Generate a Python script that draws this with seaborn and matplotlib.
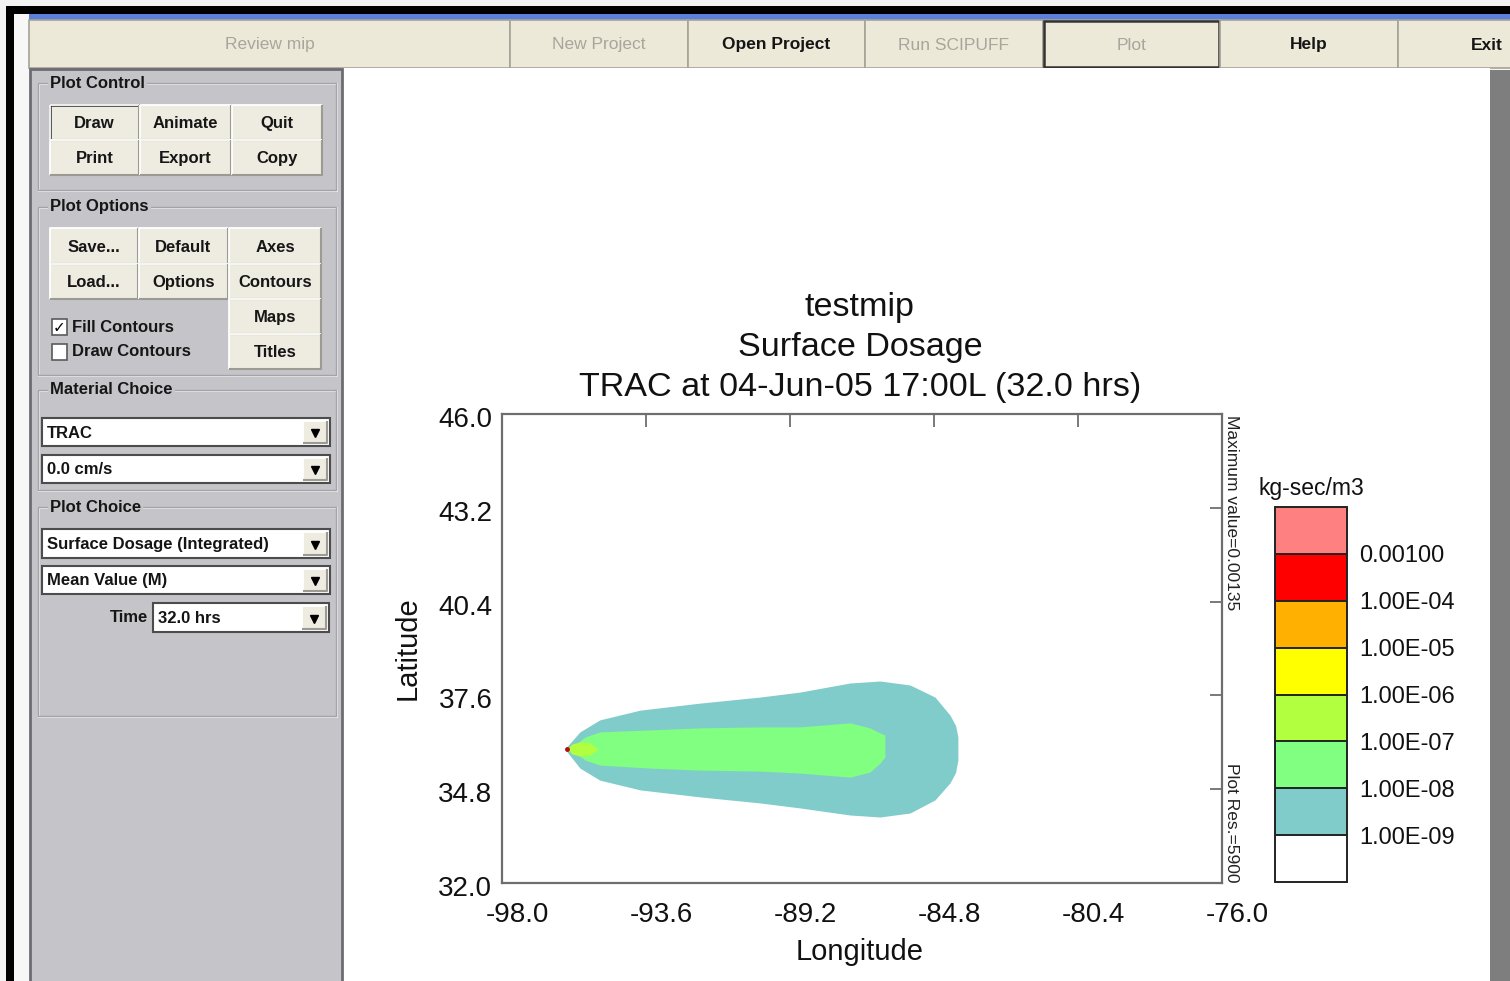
import numpy as np
import pandas as pd
import seaborn as sns
import matplotlib
matplotlib.use("Agg")
import matplotlib.pyplot as plt
import matplotlib.transforms as mtransforms
from matplotlib.patches import Rectangle
from matplotlib.colors import ListedColormap, BoundaryNorm
from matplotlib.cm import ScalarMappable
from matplotlib import font_manager

# -------------------------------------------------------
# Data (lon / lat bounds of each filled contour band)
teal_lon = [-96.08, -95.62, -95.01, -93.78, -91.95, -90.12, -88.89, -87.37, -86.45, -85.53, -84.77, -84.31, -84.14, -84.07]
teal_top = [36.00, 36.51, 36.87, 37.16, 37.37, 37.55, 37.70, 37.97, 38.03, 37.91, 37.55, 37.01, 36.70, 36.36]
teal_bot = [36.00, 35.43, 35.07, 34.78, 34.57, 34.39, 34.24, 34.03, 33.97, 34.09, 34.48, 34.99, 35.30, 35.67]

green_lon = [-95.92, -95.46, -95.01, -93.48, -91.95, -90.12, -88.89, -87.37, -86.76, -86.45, -86.30]
green_top = [36.00, 36.36, 36.51, 36.57, 36.63, 36.66, 36.66, 36.78, 36.63, 36.48, 36.42]
green_bot = [36.00, 35.67, 35.52, 35.43, 35.37, 35.34, 35.28, 35.16, 35.31, 35.58, 35.76]

ygreen_lon = [-96.01, -95.86, -95.62, -95.31, -95.10]
ygreen_top = [36.00, 36.15, 36.21, 36.18, 36.03]
ygreen_bot = [36.00, 35.85, 35.79, 35.82, 35.97]

yellow_lon = [-96.05, -95.99, -95.92]
yellow_top = [36.00, 36.06, 36.00]
yellow_bot = [36.00, 35.94, 36.00]

orange_lon = [-96.04, -96.00, -95.96]
orange_top = [36.00, 36.035, 36.00]
orange_bot = [36.00, 35.965, 36.00]

# contour levels and colours (bottom to top of the legend)
level_values = [1e-9, 1e-8, 1e-7, 1e-6, 1e-5, 1e-4, 1e-3]
level_labels = ['1.00E-09', '1.00E-08', '1.00E-07', '1.00E-06', '1.00E-05', '1.00E-04', '0.00100']
band_colors = ['#FFFFFF', '#80CCCA', '#80FF80', '#B2FF40', '#FFFF00', '#FFB000', '#FF0000', '#FF8080']

lon_ticks = [-98.0, -93.6, -89.2, -84.8, -80.4, -76.0]
lat_ticks = [32.0, 34.8, 37.6, 40.4, 43.2, 46.0]

title_lines = ['testmip', 'Surface Dosage', 'TRAC at 04-Jun-05 17:00L (32.0 hrs)']

# GUI texts
toolbar_labels = ['Review mip', 'New Project', 'Open Project', 'Run SCIPUFF', 'Plot', 'Help', 'Exit']
toolbar_enabled = [False, False, True, False, False, True, True]
group_labels = ['Plot Control', 'Plot Options', 'Material Choice', 'Plot Choice']
control_buttons = ['Draw', 'Animate', 'Quit', 'Print', 'Export', 'Copy']
option_buttons = ['Save...', 'Default', 'Axes', 'Load...', 'Options', 'Contours', 'Maps', 'Titles']
check_labels = ['Fill Contours', 'Draw Contours']
check_state = [True, False]
combo_texts = ['TRAC', '0.0 cm/s', 'Surface Dosage (Integrated)', 'Mean Value (M)', '32.0 hrs']

# -------------------------------------------------------
sns.set_theme(style="white")
plt.rcParams['font.family'] = ['Liberation Sans', 'DejaVu Sans']

W, H = 1510, 981
fig = plt.figure(figsize=(W / 100, H / 100), dpi=100)
fig.patch.set_facecolor('#F3F3F3')

# toolbar font: narrow if we have it
try:
    font_manager.findfont(font_manager.FontProperties(family='Liberation Sans Narrow'), fallback_to_default=False)
    tb_family, tb_size = ['Liberation Sans Narrow', 'Liberation Sans'], 15
except ValueError:
    tb_family, tb_size = ['Liberation Sans', 'DejaVu Sans'], 12.5

PANEL = '#C5C4C9'
BEIGE = '#ECE9D8'
BTN = '#EEEBE1'


def rect(ax, x0, y0, x1, y1, **kw):
    ax.add_patch(Rectangle((x0, y0), x1 - x0, y1 - y0, **kw))


def bevel(ax, x0, y0, x1, y1, face=BTN, light='#FFFFFF', dark='#9C9A92'):
    rect(ax, x0, y0, x1, y1, facecolor=face, edgecolor='none')
    ax.plot([x0, x0, x1], [y1, y0, y0], color=light, lw=1.3, solid_capstyle='butt')
    ax.plot([x0, x1, x1], [y1, y1, y0], color=dark, lw=1.5, solid_capstyle='butt')


def button(ax, x0, y0, x1, y1, label, default=False):
    bevel(ax, x0, y0, x1, y1)
    if default:
        rect(ax, x0, y0, x1, y1, facecolor='none', edgecolor='#2A2A2A', lw=1.8)
    ax.text((x0 + x1) / 2, (y0 + y1) / 2 + 1, label, ha='center', va='center',
            fontsize=12, weight='bold', color='#161616')


def combo(ax, x0, y0, x1, y1, text):
    rect(ax, x0, y0, x1, y1, facecolor='white', edgecolor='#4C4C4C', lw=1.5)
    bevel(ax, x1 - 27, y0 + 3, x1 - 3, y1 - 3)
    ax.plot([x1 - 15], [(y0 + y1) / 2 + 1], marker='v', ms=6, color='black')
    ax.text(x0 + 5, (y0 + y1) / 2 + 1, text, ha='left', va='center',
            fontsize=12, weight='bold', color='#141414')


# -------------------------------------------------------
# Window chrome (pixel coordinates)
bg = fig.add_axes([0, 0, 1, 1])
bg.set_xlim(0, W)
bg.set_ylim(H, 0)
bg.axis('off')

rect(bg, 6, 6, W, H, facecolor='black', edgecolor='none')
rect(bg, 14, 14, W, H, facecolor='#F7F7F7', edgecolor='none')
rect(bg, 29, 14, W, 20, facecolor='#5B80DC', edgecolor='none')
rect(bg, 29, 20, W, 68, facecolor=BEIGE, edgecolor='none')

toolbar_edges = [29, 510, 688, 865, 1043, 1220, 1398, 1575]
for i, lab in enumerate(toolbar_labels):
    x0, x1 = toolbar_edges[i], toolbar_edges[i + 1]
    rect(bg, x0, 20, x1, 68, facecolor=BEIGE, edgecolor='#A6A397', lw=1.2)
    if lab == 'Plot':
        rect(bg, x0 + 1, 21, x1 - 1, 67, facecolor='none', edgecolor='#333333', lw=1.8)
    bg.text((x0 + x1) / 2, 45, lab, ha='center', va='center', fontsize=tb_size, family=tb_family,
            weight='bold' if toolbar_enabled[i] else 'normal',
            color='#151515' if toolbar_enabled[i] else '#A8A69C')

rect(bg, 343, 68, 1490, H, facecolor='white', edgecolor='none')
rect(bg, 1490, 70, W, H, facecolor='#7E7E7E', edgecolor='none')
rect(bg, 30, 69, 342, H + 5, facecolor=PANEL, edgecolor='#6C6C72', lw=2)

# group boxes
group_spans = [(83, 190), (207, 375), (390, 490), (507, 716)]
for lab, (y0, y1) in zip(group_labels, group_spans):
    rect(bg, 39, y0 + 1, 337, y1 + 1, facecolor='none', edgecolor='#F2F2F4', lw=1.2)
    rect(bg, 38, y0, 336, y1, facecolor='none', edgecolor='#A4A3A8', lw=1.0)
    bg.text(50, y0, lab, ha='left', va='center', fontsize=12, weight='bold', color='#161616',
            bbox=dict(facecolor=PANEL, edgecolor='none', pad=1.5))

# plot control buttons
cols = [(50, 139), (140, 231), (232, 322)]
rows = [(105, 140), (140, 175)]
k = 0
for (y0, y1) in rows:
    for (x0, x1) in cols:
        button(bg, x0, y0, x1, y1, control_buttons[k], default=(k == 0))
        k += 1

# plot options buttons
cols = [(50, 138), (139, 228), (229, 321)]
opt_cells = [(0, 0), (1, 0), (2, 0), (0, 1), (1, 1), (2, 1), (2, 2), (2, 3)]
row_y = [(228, 264), (264, 299), (299, 334), (334, 369)]
for lab, (c, r) in zip(option_buttons, opt_cells):
    button(bg, cols[c][0], row_y[r][0], cols[c][1], row_y[r][1], lab)

# check boxes
for lab, state, yc in zip(check_labels, check_state, [327, 352]):
    rect(bg, 52, yc - 8, 67, yc + 8, facecolor='white', edgecolor='#5A5A5A', lw=1.2)
    if state:
        bg.text(59.5, yc + 1, '\u2713', ha='center', va='center', fontsize=11,
                family='DejaVu Sans', weight='bold', color='black')
    bg.text(72, yc, lab, ha='left', va='center', fontsize=12, weight='bold', color='#161616')

# combo boxes
combo_boxes = [(42, 418, 330, 446), (42, 455, 330, 483), (42, 529, 330, 558),
               (42, 566, 330, 594), (153, 603, 329, 632)]
for txt, (x0, y0, x1, y1) in zip(combo_texts, combo_boxes):
    combo(bg, x0, y0, x1, y1, txt)
bg.text(148, 618, 'Time', ha='right', va='center', fontsize=12, weight='bold', color='#161616')

# -------------------------------------------------------
# Plume plot
ax = fig.add_axes([502 / W, 1 - 883 / H, 720 / W, 469 / H])
ax.set_facecolor('white')

bands = [(teal_lon, teal_bot, teal_top, band_colors[1]),
         (green_lon, green_bot, green_top, band_colors[2]),
         (ygreen_lon, ygreen_bot, ygreen_top, band_colors[3]),
         (yellow_lon, yellow_bot, yellow_top, band_colors[4]),
         (orange_lon, orange_bot, orange_top, band_colors[5])]
for lon, lo, hi, col in bands:
    ax.fill_between(lon, lo, hi, color=col, lw=0)
ax.plot([orange_lon[1]], [orange_top[0]], marker='o', ms=2.5, color='#B01010', lw=0)

ax.set_xlim(-98, -76)
ax.set_ylim(32, 46)
ax.set_xticks(lon_ticks)
ax.set_xticklabels([f'{v:.1f}' for v in lon_ticks])
ax.set_yticks(lat_ticks)
ax.set_yticklabels([f'{v:.1f}' for v in lat_ticks])
ax.tick_params(direction='in', length=9, width=1.3, color='#6E6E6E', top=True, right=True,
               labelsize=20, labelcolor='#111111')
ax.tick_params(axis='x', pad=13.5)
ax.tick_params(axis='y', pad=7)
for sp in ax.spines.values():
    sp.set_color('#6E6E6E')
    sp.set_linewidth(1.6)

# labels sit a bit right of their ticks in the original
shift = mtransforms.ScaledTranslation(0.15, 0, fig.dpi_scale_trans)
for lab in ax.get_xticklabels():
    lab.set_transform(lab.get_transform() + shift)
drop = mtransforms.ScaledTranslation(0, -0.03, fig.dpi_scale_trans)
for lab in ax.get_yticklabels():
    lab.set_transform(lab.get_transform() + drop)

ax.set_xlabel('Longitude', fontsize=21, color='#111111')
ax.set_ylabel('Latitude', fontsize=21, color='#111111')
ax.xaxis.label.set_va('center')
ax.yaxis.label.set_va('center')
ax.xaxis.set_label_coords(0.497, -0.147)
ax.yaxis.set_label_coords(-0.131, 0.50)

ax.text(0.497, 1.142, '\n'.join(title_lines), transform=ax.transAxes, ha='center', va='center',
        fontsize=24.6, linespacing=1.36, color='#111111')

ax.text(1.003, 0.998, 'Maximum value=0.00135', transform=ax.transAxes, rotation=-90,
        ha='left', va='top', fontsize=12.5, color='#222222')
ax.text(1.003, 0.002, 'Plot Res.=5900', transform=ax.transAxes, rotation=-90,
        ha='left', va='bottom', fontsize=12.5, color='#222222')

# -------------------------------------------------------
# Legend bar
cax = fig.add_axes([1275 / W, 1 - 882 / H, 72 / W, 375 / H])
cmap = ListedColormap(band_colors)
bounds = [0.0] + level_values + [1e-2]
norm = BoundaryNorm(bounds, cmap.N)
cb = fig.colorbar(ScalarMappable(norm=norm, cmap=cmap), cax=cax, ticks=level_values,
                  spacing='uniform', drawedges=True)
cb.ax.minorticks_off()
cb.ax.set_yticklabels(level_labels)
cb.ax.tick_params(which='both', length=0, labelsize=17, pad=9, labelcolor='#111111')
cb.outline.set_edgecolor('#222222')
cb.outline.set_linewidth(1.4)
cb.dividers.set_color('#222222')
cb.dividers.set_linewidth(1.4)
cax.set_title('kg-sec/m3', fontsize=16.5, pad=9, color='#111111')

fig.savefig('out.png', dpi=100)
